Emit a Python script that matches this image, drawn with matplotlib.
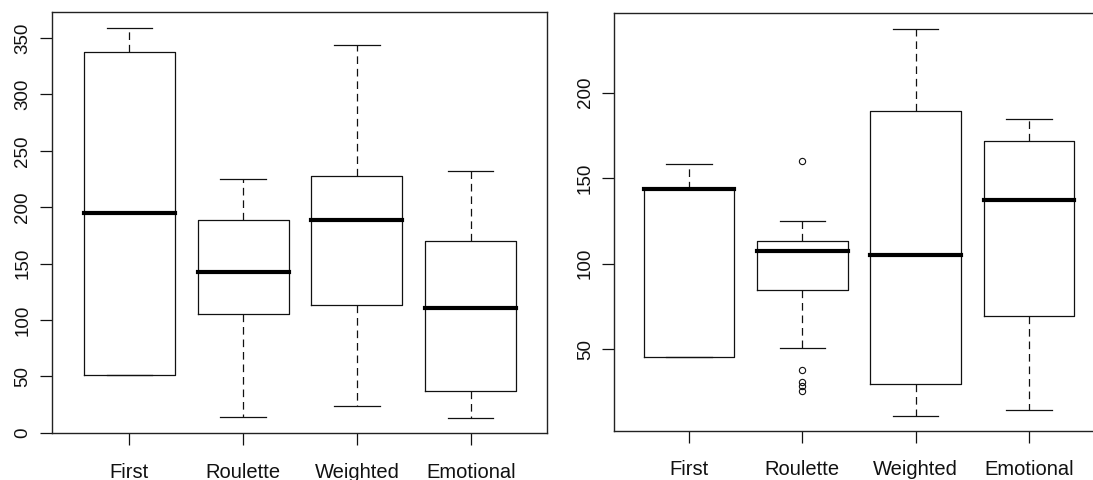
import matplotlib
matplotlib.use("Agg")
import matplotlib.pyplot as plt

plt.rcParams['font.family'] = ['Liberation Sans', 'DejaVu Sans']
plt.rcParams['lines.scale_dashes'] = False

categories = ["First", "Roulette", "Weighted", "Emotional"]

# Left panel statistics
left_whislo = [51.3, 14.2, 23.7, 13.3]
left_q1 = [51.3, 104.9, 113.2, 37.3]
left_med = [195.3, 142.5, 189.1, 110.9]
left_q3 = [337.8, 189.1, 227.3, 170.4]
left_whishi = [359.1, 224.9, 344.0, 232.0]
left_fliers = [[], [], [], []]
left_yticks = [0, 50, 100, 150, 200, 250, 300, 350]

# Right panel statistics
right_whislo = [45.5, 51.0, 11.2, 14.5]
right_q1 = [45.5, 84.4, 29.9, 69.7]
right_med = [143.5, 107.7, 105.0, 137.0]
right_q3 = [143.5, 113.3, 189.3, 172.0]
right_whishi = [158.1, 124.9, 237.4, 184.7]
right_fliers = [[], [160.0, 37.6, 31.0, 28.5, 25.5], [], []]
right_yticks = [50, 100, 150, 200]

W, H = 1093, 480
fig = plt.figure(figsize=(W / 100, H / 100), dpi=100)

def px_axes(x0, x1, ytop, ybot):
    return fig.add_axes([x0 / W, (H - ybot) / H, (x1 - x0) / W, (ybot - ytop) / H])

ax1 = px_axes(51.7, 547.3, 12.3, 433.3)
ax2 = px_axes(614.4, 1103.6, 13.3, 431.0)

ink = '#111111'

def draw(ax, whislo, q1, med, q3, whishi, fliers, yticks, xlim, ylim):
    stats = []
    for i, lab in enumerate(categories):
        stats.append(dict(label=lab, whislo=whislo[i], q1=q1[i], med=med[i],
                          q3=q3[i], whishi=whishi[i], fliers=fliers[i]))
    ax.bxp(stats, positions=range(1, len(categories) + 1), widths=0.8,
           showfliers=True,
           boxprops=dict(color=ink, linewidth=0.9),
           medianprops=dict(color='black', linewidth=3.0, solid_capstyle='projecting'),
           whiskerprops=dict(color=ink, linewidth=0.9, linestyle=(0, (5.5, 3.5))),
           capprops=dict(color=ink, linewidth=0.9),
           capwidths=0.4,
           flierprops=dict(marker='o', markerfacecolor='none', markeredgecolor=ink,
                           markersize=4.5, markeredgewidth=0.8, linestyle='none'))
    ax.set_xlim(*xlim)
    ax.set_ylim(*ylim)
    ax.set_yticks(yticks)
    ax.set_yticklabels([str(v) for v in yticks], rotation=90, va='center')
    ax.set_xticks(range(1, len(categories) + 1))
    ax.set_xticklabels(categories)
    ax.tick_params(axis='x', length=8.6, width=0.9, color=ink, pad=12.5,
                   labelsize=14.5, labelcolor='#111111')
    ax.tick_params(axis='y', length=8.6, width=0.9, color=ink, pad=6,
                   labelsize=13.5, labelcolor='#111111')
    for sp in ax.spines.values():
        sp.set_linewidth(1.0)
        sp.set_color('#222222')

draw(ax1, left_whislo, left_q1, left_med, left_q3, left_whishi, left_fliers,
     left_yticks, (0.318, 4.673), (-0.5, 372.9))
draw(ax2, right_whislo, right_q1, right_med, right_q3, right_whishi, right_fliers,
     right_yticks, (0.34, 4.66), (2.2, 246.4))

fig.savefig("out.png", dpi=100)
